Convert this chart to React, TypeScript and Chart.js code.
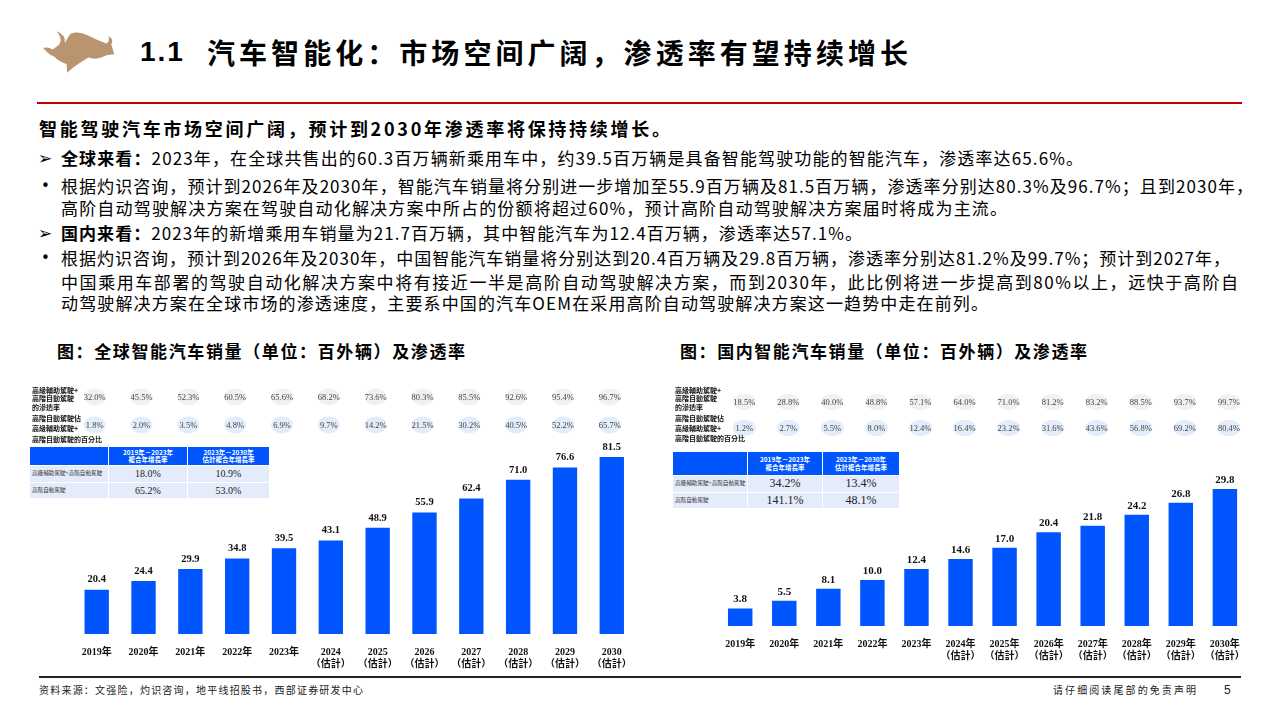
import React, { useEffect, useLayoutEffect, useRef } from "react";
import { Chart, registerables } from "chart.js";

Chart.register(...registerables);

// ---------------- DATA ----------------
const globalCategories: (string | string[])[] = [
  "2019年", "2020年", "2021年", "2022年", "2023年",
  ["2024", "（估計）"], ["2025", "（估計）"], ["2026", "（估計）"], ["2027", "（估計）"],
  ["2028", "（估計）"], ["2029", "（估計）"], ["2030", "（估計）"],
];
const globalSales = [20.4, 24.4, 29.9, 34.8, 39.5, 43.1, 48.9, 55.9, 62.4, 71.0, 76.6, 81.5];
const globalPenetration = ["32.0%", "45.5%", "52.3%", "60.5%", "65.6%", "68.2%", "73.6%", "80.3%", "85.5%", "92.6%", "95.4%", "96.7%"];
const globalHighShare = ["1.8%", "2.0%", "3.5%", "4.8%", "6.9%", "9.7%", "14.2%", "21.5%", "30.2%", "40.5%", "52.2%", "65.7%"];

const domesticCategories: (string | string[])[] = [
  "2019年", "2020年", "2021年", "2022年", "2023年",
  ["2024年", "（估計）"], ["2025年", "（估計）"], ["2026年", "（估計）"], ["2027年", "（估計）"],
  ["2028年", "（估計）"], ["2029年", "（估計）"], ["2030年", "（估計）"],
];
const domesticSales = [3.8, 5.5, 8.1, 10.0, 12.4, 14.6, 17.0, 20.4, 21.8, 24.2, 26.8, 29.8];
const domesticPenetration = ["18.5%", "28.8%", "40.0%", "48.8%", "57.1%", "64.0%", "71.0%", "81.2%", "83.2%", "88.5%", "93.7%", "99.7%"];
const domesticHighShare = ["1.2%", "2.7%", "5.5%", "8.0%", "12.4%", "16.4%", "23.2%", "31.6%", "43.6%", "56.8%", "69.2%", "80.4%"];

const cagrHeaders = [["2019年－2023年", "複合年增長率"], ["2023年－2030年", "估計複合年增長率"]];
const cagrRowLabels = ["高級輔助駕駛+高階自動駕駛", "高階自動駕駛"];
const globalCagr = [["18.0%", "10.9%"], ["65.2%", "53.0%"]];
const domesticCagr = [["34.2%", "13.4%"], ["141.1%", "48.1%"]];

const penetrationLabel = ["高級輔助駕駛+", "高階自動駕駛", "的滲透率"];
const shareLabel = ["高階自動駕駛佔", "高級輔助駕駛+", "高階自動駕駛的百分比"];

// ---------------- STYLE ----------------
const SANS = '"Noto Sans CJK SC", "Noto Sans", sans-serif';
const TC = '"Noto Sans CJK TC", "Noto Sans CJK SC", sans-serif';
const SERIF = '"Liberation Serif", "Noto Sans CJK TC", serif';
const BLUE = "#0055FF";

// ---------------- HELPERS ----------------
function FitText(props: {
  x: number; y: number; width: number; size: number; weight?: number | string;
  family?: string; color?: string; lh?: number; children: React.ReactNode;
}) {
  const { x, y, width, size, weight = 400, family = SANS, color = "#000", lh = 22, children } = props;
  const ref = useRef<HTMLSpanElement>(null);
  useLayoutEffect(() => {
    const el = ref.current;
    if (!el) return;
    const fit = () => {
      el.style.letterSpacing = "0px";
      const w = el.getBoundingClientRect().width;
      const n = Array.from(el.textContent || "").length;
      if (n > 1) el.style.letterSpacing = (width - w) / (n - 1) + "px";
    };
    fit();
    if ((document as any).fonts) (document as any).fonts.ready.then(fit);
  }, [width]);
  return (
    <div
      style={{
        position: "absolute", left: x, top: y - lh / 2, height: lh, lineHeight: lh + "px",
        whiteSpace: "nowrap", fontSize: size, fontWeight: weight as any, fontFamily: family, color,
      }}
    >
      <span ref={ref}>{children}</span>
    </div>
  );
}

function Abs(props: { x: number; y: number; size: number; weight?: any; family?: string; color?: string; children: React.ReactNode; lh?: number }) {
  const { x, y, size, weight = 400, family = SANS, color = "#000", lh = size + 4 } = props;
  return (
    <div style={{ position: "absolute", left: x, top: y - lh / 2, lineHeight: lh + "px", height: lh, whiteSpace: "nowrap", fontSize: size, fontWeight: weight, fontFamily: family, color }}>
      {props.children}
    </div>
  );
}

function BarChart(props: {
  left: number; top: number; width: number; height: number;
  labels: (string | string[])[]; values: number[]; ymax: number;
  pad: { left: number; right: number; top: number }; axisHeight: number; barPct: number;
  rows: { y: number; values: string[]; fill: string }[];
  dx: number; rx: number; ry: number; labelGap: number; labelSize: number; rowFontSize: number;
}) {
  const ref = useRef<HTMLCanvasElement>(null);
  useEffect(() => {
    const p = props;
    const overlay = {
      id: "overlay",
      afterDatasetsDraw(chart: any) {
        const ctx = chart.ctx as CanvasRenderingContext2D;
        const meta = chart.getDatasetMeta(0);
        ctx.save();
        ctx.textAlign = "center";
        ctx.textBaseline = "middle";
        meta.data.forEach((bar: any, i: number) => {
          ctx.fillStyle = "#111";
          ctx.font = `bold ${p.labelSize}px "Liberation Serif", serif`;
          ctx.fillText(p.values[i].toFixed(1), bar.x, bar.y - p.labelGap);
        });
        p.rows.forEach((row) => {
          meta.data.forEach((bar: any, i: number) => {
            const cx = bar.x + p.dx;
            const cy = row.y - p.top;
            ctx.beginPath();
            ctx.ellipse(cx, cy, p.rx, p.ry, 0, 0, Math.PI * 2);
            ctx.fillStyle = row.fill;
            ctx.fill();
            ctx.fillStyle = "#444";
            ctx.font = `${p.rowFontSize}px "Liberation Serif", serif`;
            ctx.fillText(row.values[i], cx, cy + 0.5);
          });
        });
        ctx.restore();
      },
    };
    const chart = new Chart(ref.current as HTMLCanvasElement, {
      type: "bar",
      data: {
        labels: p.labels as any,
        datasets: [{
          data: p.values, backgroundColor: BLUE, borderWidth: 0,
          barPercentage: p.barPct, categoryPercentage: 1,
        }],
      },
      options: {
        animation: false, responsive: false, maintainAspectRatio: false, devicePixelRatio: 1,
        layout: { padding: { left: p.pad.left, right: p.pad.right, top: p.pad.top, bottom: 0 } },
        plugins: { legend: { display: false }, tooltip: { enabled: false } },
        scales: {
          x: {
            grid: { display: false }, border: { display: false },
            ticks: {
              color: "#111", padding: 4, maxRotation: 0, autoSkip: false,
              font: { family: SERIF, size: 10, weight: "bold", lineHeight: 1.2 },
            },
            afterFit: (s: any) => { s.height = p.axisHeight; },
          },
          y: { display: false, min: 0, max: p.ymax },
        },
      },
      plugins: [overlay as any],
    });
    return () => chart.destroy();
  }, []);
  return (
    <canvas ref={ref} width={props.width} height={props.height}
      style={{ position: "absolute", left: props.left, top: props.top, width: props.width, height: props.height }} />
  );
}

function CagrTable(props: { x: number; y: number; cols: number[]; headH: number; rowH: number; rows: string[][]; valueSize: number }) {
  const { x, y, cols, headH, rowH, rows, valueSize } = props;
  const total = cols.reduce((a, b) => a + b, 0);
  return (
    <div style={{ position: "absolute", left: x, top: y, width: total }}>
      <div style={{ display: "flex", height: headH, background: BLUE }}>
        <div style={{ width: cols[0], borderRight: "1px solid #fff", boxSizing: "border-box" }} />
        {cagrHeaders.map((h, i) => (
          <div key={i} style={{ width: cols[i + 1], borderRight: i === 0 ? "1px solid #fff" : "none", boxSizing: "border-box", color: "#fff", fontFamily: TC, fontSize: 6.5, fontWeight: 700, lineHeight: "7.5px", textAlign: "center", display: "flex", flexDirection: "column", justifyContent: "center" }}>
            <div>{h[0]}</div>
            <div>{h[1]}</div>
          </div>
        ))}
      </div>
      {rows.map((r, ri) => (
        <div key={ri} style={{ display: "flex", height: rowH, background: "#E4ECFB", borderTop: "1px solid #fff", boxSizing: "border-box" }}>
          <div style={{ width: cols[0], borderRight: "1px solid #fff", boxSizing: "border-box", fontFamily: TC, fontSize: 5.6, color: "#333", lineHeight: rowH - 1 + "px", paddingLeft: 2, whiteSpace: "nowrap", overflow: "hidden" }}>{cagrRowLabels[ri]}</div>
          {r.map((v, ci) => (
            <div key={ci} style={{ width: cols[ci + 1], borderRight: ci === 0 ? "1px solid #fff" : "none", boxSizing: "border-box", fontFamily: SERIF, fontSize: valueSize, color: "#222", textAlign: "center", lineHeight: rowH - 1 + "px" }}>{v}</div>
          ))}
        </div>
      ))}
    </div>
  );
}

function RowLabel(props: { x: number; ys: number[]; lines: string[] }) {
  return (
    <>
      {props.lines.map((l, i) => (
        <Abs key={i} x={props.x} y={props.ys[i]} size={7} weight={700} family={TC} color="#111" lh={9}>{l}</Abs>
      ))}
    </>
  );
}

function Logo() {
  return (
    <svg width={74} height={44} viewBox="60 28 228 136" style={{ position: "absolute", left: 41, top: 30 }}>
      <path
        fill="#B8946F"
        d="M66,84 Q78,78 96,88 L117,72 Q127,54 108,32 Q138,44 133,68 L150,40 Q175,30 205,45 Q235,60 262,70 Q273,62 268,47 Q286,54 277,73 L286,104 Q266,101 246,113 Q226,120 206,113 L178,131 Q160,142 140,160 L139,133 Q116,128 101,111 Q86,105 79,97 Z"
      />
    </svg>
  );
}

export default function App() {
  useEffect(() => {
    document.body.style.margin = "0";
  }, []);
  const bodySize = 17;
  return (
    <div style={{ position: "fixed", left: 0, top: 0, width: 1280, height: 720, background: "#fff", overflow: "hidden" }}>
      {/* Charts */}
      <BarChart
        left={60} top={375} width={600} height={295}
        labels={globalCategories} values={globalSales} ymax={100}
        pad={{ left: 13.3, right: 24.8, top: 41.8 }} axisHeight={36} barPct={0.52}
        rows={[{ y: 397, values: globalPenetration, fill: "#F1F1F1" }, { y: 425, values: globalHighShare, fill: "#E3ECFB" }]}
        dx={-2} rx={11} ry={8.5} labelGap={10} labelSize={10.5} rowFontSize={8.5}
      />
      <BarChart
        left={700} top={375} width={570} height={295}
        labels={domesticCategories} values={domesticSales} ymax={40}
        pad={{ left: 18.2, right: 23.1, top: 67.1 }} axisHeight={44} barPct={0.555}
        rows={[{ y: 402, values: domesticPenetration, fill: "#F1F1F1" }, { y: 428, values: domesticHighShare, fill: "#E3ECFB" }]}
        dx={4} rx={11.5} ry={8} labelGap={9} labelSize={11} rowFontSize={8.5}
      />

      {/* Header */}
      <Logo />
      <Abs x={140} y={52} size={28} weight={700} family='"Liberation Sans", sans-serif' lh={36}>
        <span style={{ letterSpacing: 2 }}>1.1</span>
      </Abs>
      <FitText x={207} y={52} width={701} size={28} weight={700} lh={36}>汽车智能化：市场空间广阔，渗透率有望持续增长</FitText>
      <div style={{ position: "absolute", left: 37, top: 102, width: 1205, height: 2, background: "#C00000" }} />

      {/* Body text */}
      <FitText x={39} y={128} width={631} size={18} weight={700}>智能驾驶汽车市场空间广阔，预计到2030年渗透率将保持持续增长。</FitText>

      <Abs x={38} y={158} size={17} family='"DejaVu Sans", sans-serif' lh={20}>➢</Abs>
      <FitText x={61} y={158} width={1022} size={bodySize}><b>全球来看：</b>2023年，在全球共售出的60.3百万辆新乘用车中，约39.5百万辆是具备智能驾驶功能的智能汽车，渗透率达65.6%。</FitText>

      <Abs x={41} y={186} size={15} family='"DejaVu Sans", sans-serif' lh={20}>•</Abs>
      <FitText x={61} y={186} width={1192} size={bodySize}>根据灼识咨询，预计到2026年及2030年，智能汽车销量将分别进一步增加至55.9百万辆及81.5百万辆，渗透率分别达80.3%及96.7%；且到2030年，</FitText>
      <FitText x={61} y={208} width={946} size={bodySize}>高阶自动驾驶解决方案在驾驶自动化解决方案中所占的份额将超过60%，预计高阶自动驾驶解决方案届时将成为主流。</FitText>

      <Abs x={38} y={233} size={17} family='"DejaVu Sans", sans-serif' lh={20}>➢</Abs>
      <FitText x={61} y={233} width={801} size={bodySize}><b>国内来看：</b>2023年的新增乘用车销量为21.7百万辆，其中智能汽车为12.4百万辆，渗透率达57.1%。</FitText>

      <Abs x={41} y={258} size={15} family='"DejaVu Sans", sans-serif' lh={20}>•</Abs>
      <FitText x={61} y={258} width={1169} size={bodySize}>根据灼识咨询，预计到2026年及2030年，中国智能汽车销量将分别达到20.4百万辆及29.8百万辆，渗透率分别达81.2%及99.7%；预计到2027年，</FitText>
      <FitText x={61} y={282} width={1177} size={bodySize}>中国乘用车部署的驾驶自动化解决方案中将有接近一半是高阶自动驾驶解决方案，而到2030年，此比例将进一步提高到80%以上，远快于高阶自</FitText>
      <FitText x={61} y={303} width={927} size={bodySize}>动驾驶解决方案在全球市场的渗透速度，主要系中国的汽车OEM在采用高阶自动驾驶解决方案这一趋势中走在前列。</FitText>

      {/* Chart titles */}
      <FitText x={57} y={351} width={408} size={17} weight={700}>图：全球智能汽车销量（单位：百外辆）及渗透率</FitText>
      <FitText x={680} y={351} width={407} size={17} weight={700}>图：国内智能汽车销量（单位：百外辆）及渗透率</FitText>

      {/* Row labels */}
      <RowLabel x={32} ys={[390, 398, 407]} lines={penetrationLabel} />
      <RowLabel x={32} ys={[418, 428, 439]} lines={shareLabel} />
      <RowLabel x={675} ys={[390, 398, 407]} lines={penetrationLabel} />
      <RowLabel x={675} ys={[418, 428, 438]} lines={shareLabel} />

      {/* CAGR tables */}
      <CagrTable x={30} y={447} cols={[79, 79, 81]} headH={18} rowH={16.5} rows={globalCagr} valueSize={10} />
      <CagrTable x={673} y={452} cols={[75, 75, 76]} headH={23} rowH={16.5} rows={domesticCagr} valueSize={12} />

      {/* Footer */}
      <div style={{ position: "absolute", left: 39, top: 676, width: 1202, height: 1.5, background: "#222" }} />
      <FitText x={39} y={690} width={324} size={10} color="#222" lh={14}>资料来源：文强险，灼识咨询，地平线招股书，西部证券研发中心</FitText>
      <FitText x={1053} y={690} width={143} size={10} color="#222" lh={14}>请仔细阅读尾部的免责声明</FitText>
      <Abs x={1224} y={690} size={12} family='"Liberation Sans", sans-serif' color="#222">5</Abs>
    </div>
  );
}
